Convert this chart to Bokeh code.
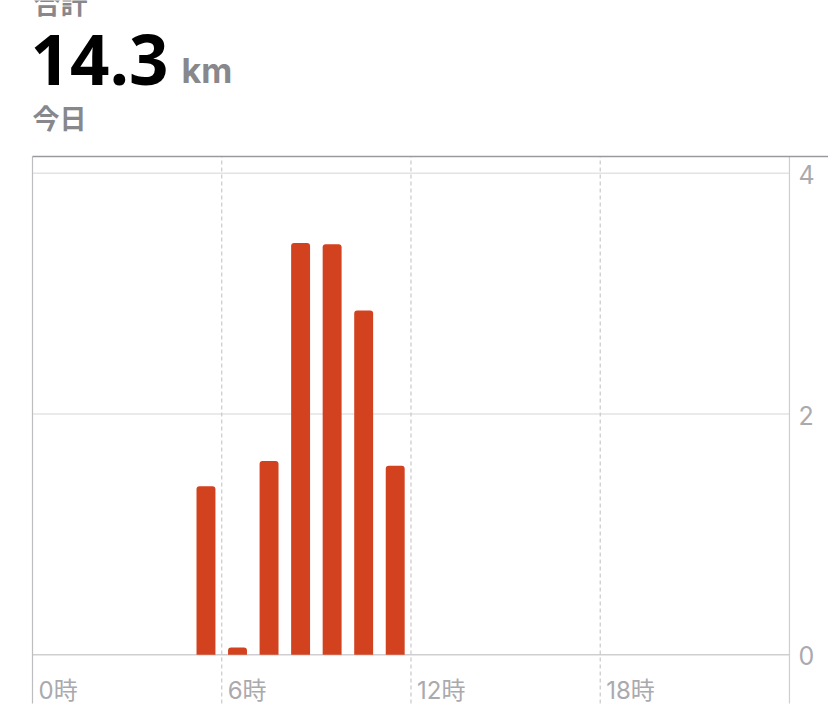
from bokeh.plotting import figure
from bokeh.models import Label, Range1d, ColumnDataSource
from bokeh.core.properties import value
from bokeh.embed import file_html
from bokeh.resources import INLINE

# ---- data ----
hours = [5, 6, 7, 8, 9, 10, 11]
km = [1.40, 0.06, 1.61, 3.42, 3.41, 2.86, 1.57]
x_ticks = [0, 6, 12, 18]
x_tick_labels = ["0時", "6時", "12時", "18時"]
y_ticks = [0, 2, 4]
y_tick_labels = ["0", "2", "4"]
total_label = "14.3"
unit_label = "km"
header_label = "合計"
period_label = "今日"

BAR = "#D3421F"
GRID = "#E3E3E6"
DASH = "#C9C9CC"
LABEL = "#AAAAAE"
HEAD = "#88888C"
FONT = "Inter, 'Noto Sans CJK JP'"
CJK = "'Noto Sans CJK JP'"

W, H = 828, 728
PXH = 31.54     # px per hour
PXU = 120.4     # px per km
X0PX = 32       # px of hour 0
Y0PX = 654.3    # px of 0 km
XS, XE = -X0PX / PXH, (W - X0PX) / PXH
YS, YE = -(H - Y0PX) / PXU, Y0PX / PXU
YTOP = (Y0PX - 156) / PXU      # chart box top
YBOT = -(703 - Y0PX) / PXU     # chart box bottom

p = figure(width=W, height=H, output_backend="svg", toolbar_location=None,
           x_range=Range1d(XS, XE), y_range=Range1d(YS, YE),
           x_axis_location=None, y_axis_location=None,
           min_border=0, min_border_left=0, min_border_right=0,
           min_border_top=0, min_border_bottom=0)
p.grid.visible = False
p.outline_line_color = None
p.background_fill_color = "white"
p.border_fill_color = "white"

# horizontal gridlines (stop at the right border)
p.segment(x0=[0] * len(y_ticks), y0=y_ticks, x1=[24] * len(y_ticks), y1=y_ticks,
          line_color=["#CFCFD2", GRID, GRID], line_width=1.5)

# dashed vertical hour lines
p.segment(x0=x_ticks[1:], y0=[YBOT] * 3, x1=x_ticks[1:], y1=[YTOP] * 3,
          line_color=DASH, line_width=1.2, line_dash="4 3")

# left / right borders
p.segment(x0=[0, 24], y0=[YBOT, YBOT], x1=[0, 24], y1=[YTOP, YTOP],
          line_color=["#BDBDC0", "#CFCFD2"], line_width=1.2)
# top border
p.segment(x0=[0], y0=[YTOP], x1=[XE], y1=[YTOP], line_color="#9A9A9E", line_width=1.5)

# bars
src = ColumnDataSource(dict(x=[h + 0.5 for h in hours], top=km))
p.vbar(x="x", top="top", bottom=0, width=0.6, source=src,
       fill_color=BAR, line_color=None, border_radius=(3, 3, 0, 0))

# x tick labels
p.text(x=x_ticks, y=[0] * len(x_ticks), text=x_tick_labels, x_offset=6, y_offset=36,
       text_align="left", text_baseline="alphabetic", text_font=value(FONT),
       text_font_size="24px", text_color=LABEL)

# y tick labels (right side)
p.text(x=[24] * len(y_ticks), y=y_ticks, text=y_tick_labels, x_offset=9, y_offset=1,
       text_align="left", text_baseline="middle", text_font=value(FONT),
       text_font_size="25px", text_color=LABEL)

# header texts (screen units from canvas bottom-left)
p.add_layout(Label(x=33, y=H - 2, x_units="screen", y_units="screen",
                   text=header_label, text_font=CJK, text_font_style="bold",
                   text_font_size="27px", text_color=HEAD, text_baseline="alphabetic"))
p.add_layout(Label(x=30, y=H - 59, x_units="screen", y_units="screen",
                   text=total_label, text_font="Open Sans", text_font_style="bold",
                   text_font_size="69px", text_color="#000000", text_baseline="alphabetic"))
p.add_layout(Label(x=181, y=H - 70, x_units="screen", y_units="screen",
                   text=unit_label, text_font="Inter", text_font_style="bold",
                   text_font_size="34px", text_color=HEAD, text_baseline="alphabetic"))
p.add_layout(Label(x=32, y=H - 117, x_units="screen", y_units="screen",
                   text=period_label, text_font=CJK, text_font_style="bold",
                   text_font_size="27px", text_color=HEAD, text_baseline="alphabetic"))

open("out.html", "w").write(file_html(p, INLINE))
